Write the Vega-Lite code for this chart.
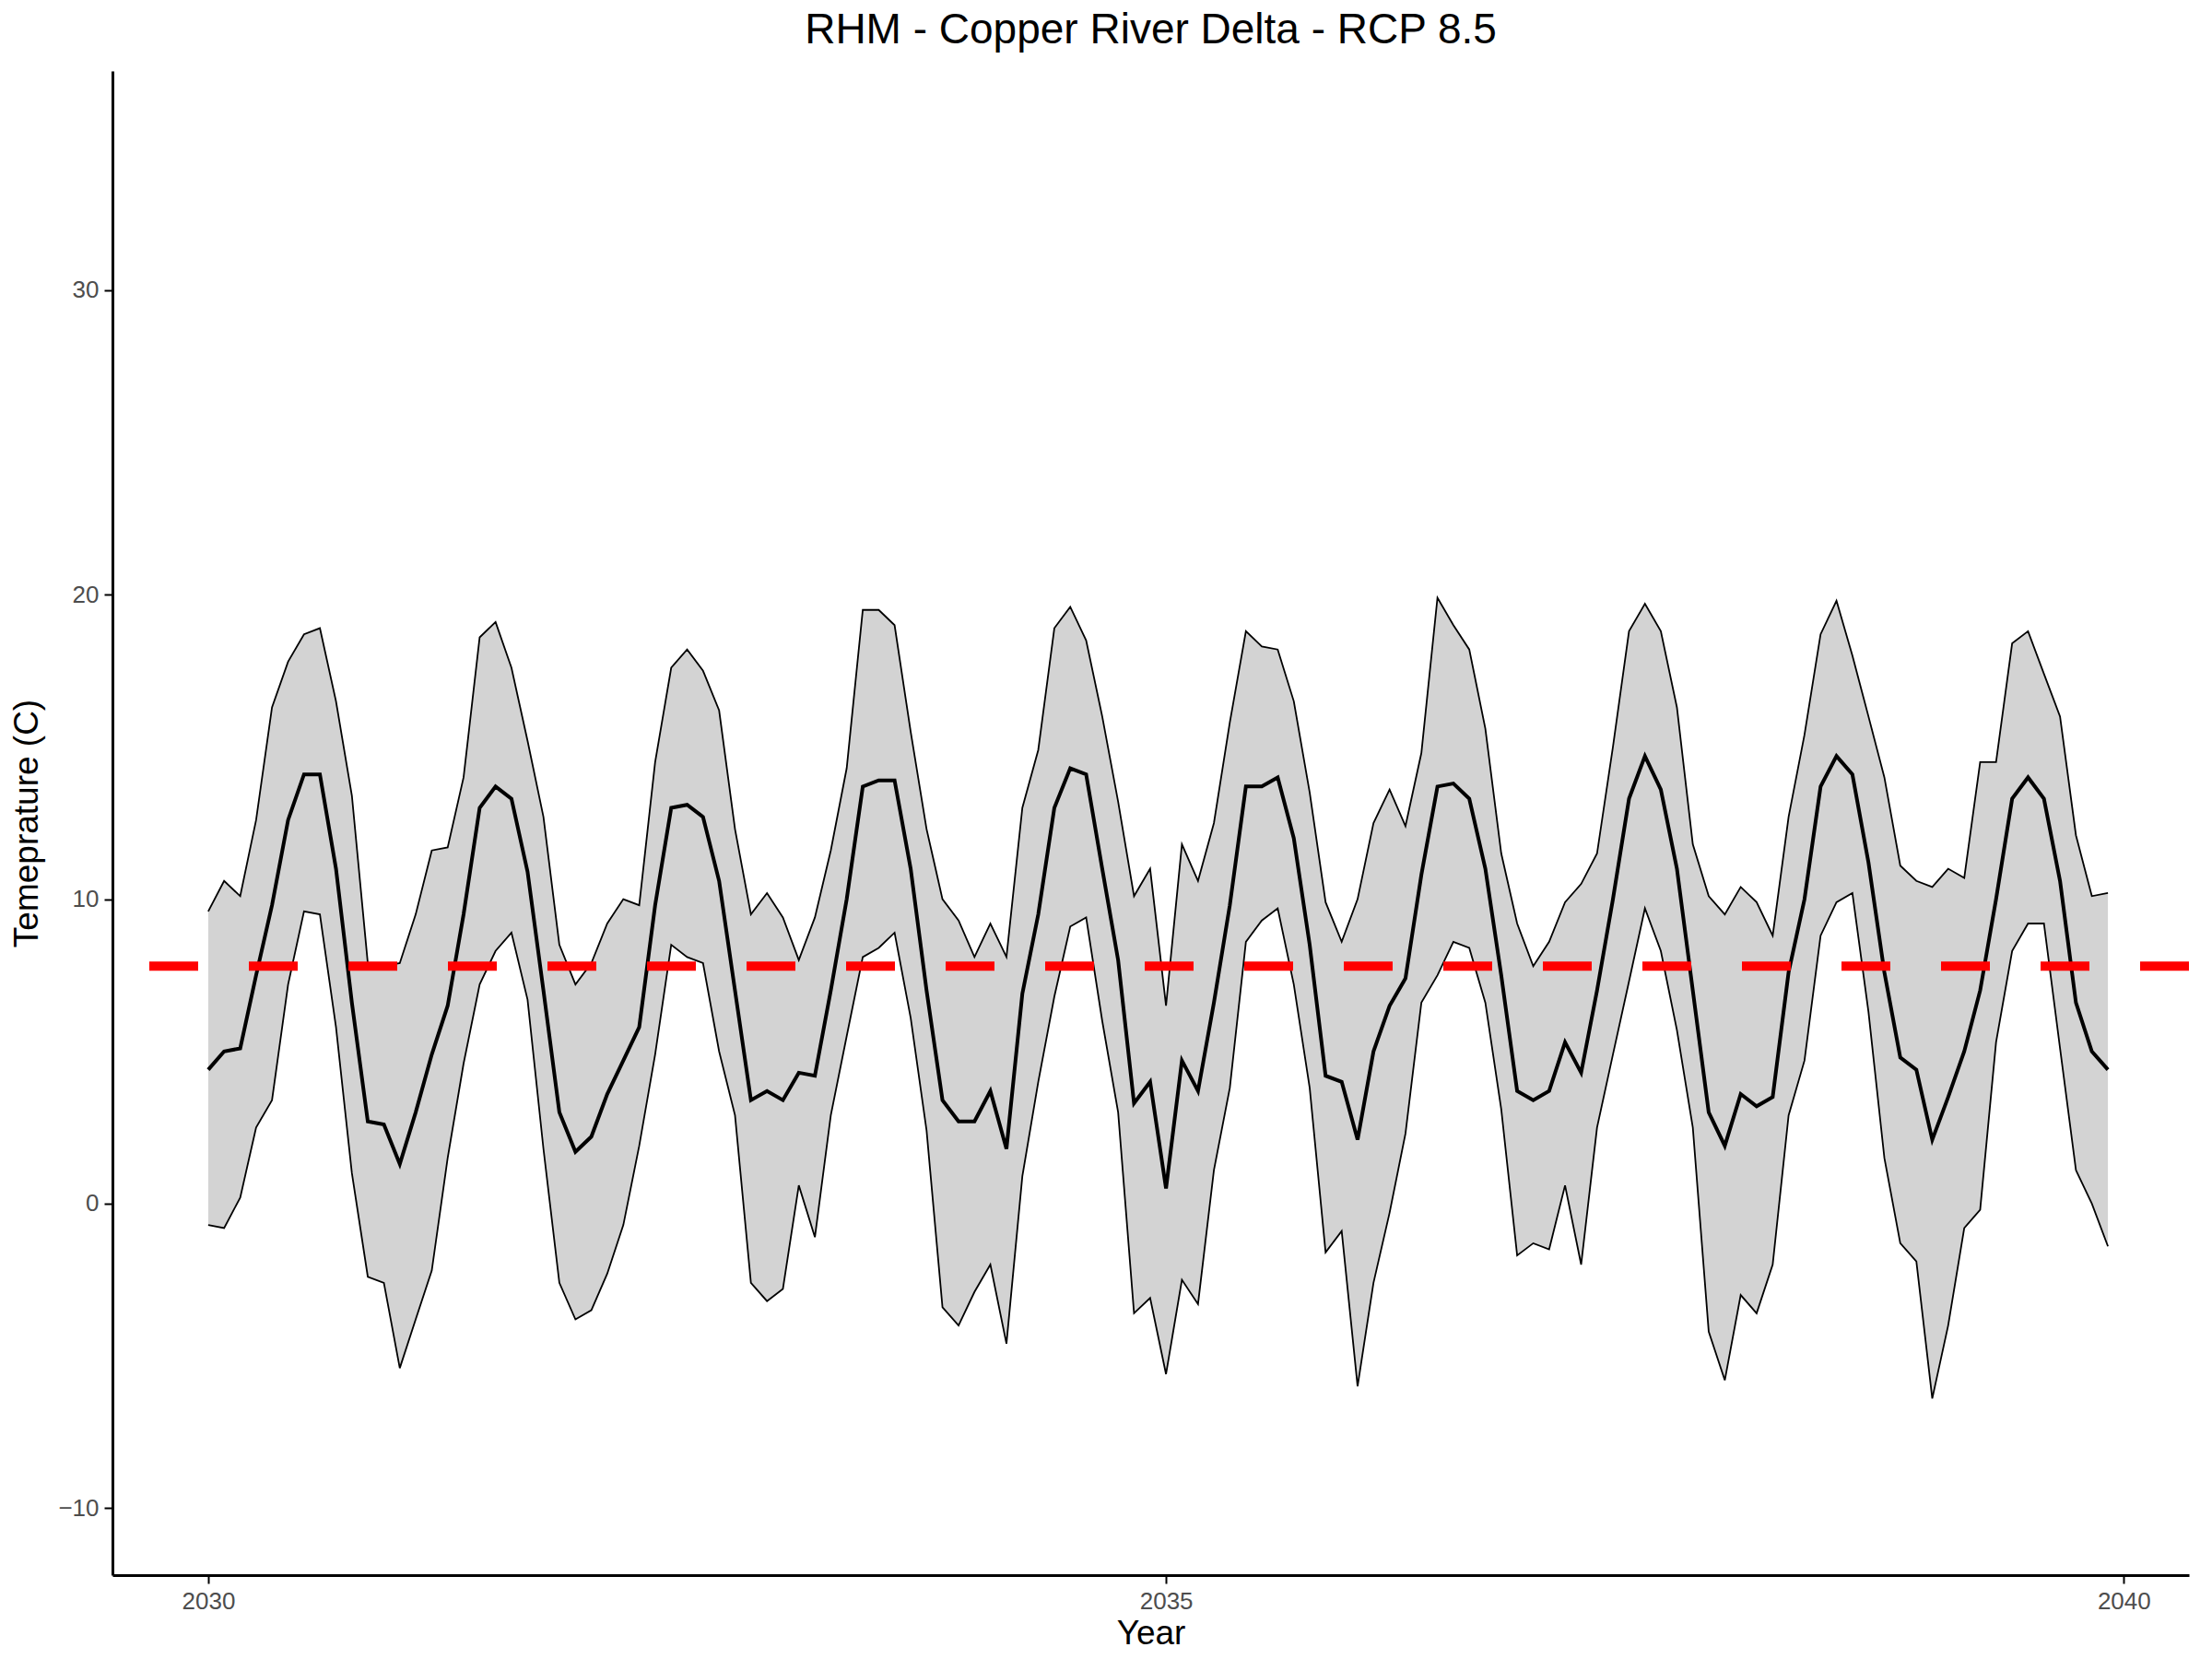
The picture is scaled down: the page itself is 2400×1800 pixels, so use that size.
{
"$schema":"https://vega.github.io/schema/vega-lite/v6.json",
"width":2400,"height":1800,
"autosize":{"type":"fit","contains":"padding"},
"padding":{"left":10,"top":10,"right":20,"bottom":10},
"background":"white",
"title":{"text":"RHM - Copper River Delta - RCP 8.5","fontSize":46,"font":"Liberation Sans","fontWeight":"normal","color":"black","offset":20},
"config":{"view":{"stroke":null},"axis":{"grid":false,"domainColor":"black","domainWidth":3,"tickColor":"black","tickWidth":2,"tickSize":9,"labelFont":"Liberation Sans","labelFontSize":26,"labelColor":"#4D4D4D","titleFont":"Liberation Sans","titleFontSize":37,"titleFontWeight":"normal","titleColor":"black","labelPadding":6}},
"datasets":{"temps":[
{"t":2030.000,"mean":4.4,"upper":9.6,"lower":-0.7},{"t":2030.083,"mean":5.0,"upper":10.6,"lower":-0.8},{"t":2030.167,"mean":5.1,"upper":10.1,"lower":0.2},{"t":2030.250,"mean":7.5,"upper":12.6,"lower":2.5},{"t":2030.333,"mean":9.8,"upper":16.3,"lower":3.4},{"t":2030.417,"mean":12.6,"upper":17.8,"lower":7.2},{"t":2030.500,"mean":14.1,"upper":18.7,"lower":9.6},{"t":2030.583,"mean":14.1,"upper":18.9,"lower":9.5},{"t":2030.667,"mean":11.0,"upper":16.5,"lower":5.8},{"t":2030.750,"mean":6.6,"upper":13.4,"lower":1.0},{"t":2030.833,"mean":2.7,"upper":7.9,"lower":-2.4},{"t":2030.917,"mean":2.6,"upper":7.8,"lower":-2.6},
{"t":2031.000,"mean":1.3,"upper":7.9,"lower":-5.4},{"t":2031.083,"mean":3.0,"upper":9.5,"lower":-3.8},{"t":2031.167,"mean":4.9,"upper":11.6,"lower":-2.2},{"t":2031.250,"mean":6.5,"upper":11.7,"lower":1.5},{"t":2031.333,"mean":9.5,"upper":14.0,"lower":4.6},{"t":2031.417,"mean":13.0,"upper":18.6,"lower":7.2},{"t":2031.500,"mean":13.7,"upper":19.1,"lower":8.3},{"t":2031.583,"mean":13.3,"upper":17.6,"lower":8.9},{"t":2031.667,"mean":10.9,"upper":15.2,"lower":6.7},{"t":2031.750,"mean":7.0,"upper":12.7,"lower":1.8},{"t":2031.833,"mean":3.0,"upper":8.5,"lower":-2.6},{"t":2031.917,"mean":1.7,"upper":7.2,"lower":-3.8},
{"t":2032.000,"mean":2.2,"upper":7.9,"lower":-3.5},{"t":2032.083,"mean":3.6,"upper":9.2,"lower":-2.3},{"t":2032.167,"mean":4.7,"upper":10.0,"lower":-0.7},{"t":2032.250,"mean":5.8,"upper":9.8,"lower":1.9},{"t":2032.333,"mean":9.8,"upper":14.5,"lower":4.9},{"t":2032.417,"mean":13.0,"upper":17.6,"lower":8.5},{"t":2032.500,"mean":13.1,"upper":18.2,"lower":8.1},{"t":2032.583,"mean":12.7,"upper":17.5,"lower":7.9},{"t":2032.667,"mean":10.6,"upper":16.2,"lower":5.0},{"t":2032.750,"mean":7.0,"upper":12.3,"lower":2.9},{"t":2032.833,"mean":3.4,"upper":9.5,"lower":-2.6},{"t":2032.917,"mean":3.7,"upper":10.2,"lower":-3.2},
{"t":2033.000,"mean":3.4,"upper":9.4,"lower":-2.8},{"t":2033.083,"mean":4.3,"upper":8.0,"lower":0.6},{"t":2033.167,"mean":4.2,"upper":9.4,"lower":-1.1},{"t":2033.250,"mean":7.0,"upper":11.6,"lower":2.9},{"t":2033.333,"mean":10.0,"upper":14.3,"lower":5.5},{"t":2033.417,"mean":13.7,"upper":19.5,"lower":8.1},{"t":2033.500,"mean":13.9,"upper":19.5,"lower":8.4},{"t":2033.583,"mean":13.9,"upper":19.0,"lower":8.9},{"t":2033.667,"mean":11.0,"upper":15.5,"lower":6.1},{"t":2033.750,"mean":7.0,"upper":12.3,"lower":2.4},{"t":2033.833,"mean":3.4,"upper":10.0,"lower":-3.4},{"t":2033.917,"mean":2.7,"upper":9.3,"lower":-4.0},
{"t":2034.000,"mean":2.7,"upper":8.1,"lower":-2.9},{"t":2034.083,"mean":3.7,"upper":9.2,"lower":-2.0},{"t":2034.167,"mean":1.8,"upper":8.1,"lower":-4.6},{"t":2034.250,"mean":6.9,"upper":13.0,"lower":0.9},{"t":2034.333,"mean":9.5,"upper":14.9,"lower":4.0},{"t":2034.417,"mean":13.0,"upper":18.9,"lower":6.8},{"t":2034.500,"mean":14.3,"upper":19.6,"lower":9.1},{"t":2034.583,"mean":14.1,"upper":18.5,"lower":9.4},{"t":2034.667,"mean":11.0,"upper":16.0,"lower":6.0},{"t":2034.750,"mean":8.0,"upper":13.2,"lower":3.0},{"t":2034.833,"mean":3.3,"upper":10.1,"lower":-3.6},{"t":2034.917,"mean":4.0,"upper":11.0,"lower":-3.1},
{"t":2035.000,"mean":0.5,"upper":6.5,"lower":-5.6},{"t":2035.083,"mean":4.7,"upper":11.8,"lower":-2.5},{"t":2035.167,"mean":3.7,"upper":10.6,"lower":-3.3},{"t":2035.250,"mean":6.6,"upper":12.5,"lower":1.1},{"t":2035.333,"mean":9.8,"upper":15.8,"lower":3.8},{"t":2035.417,"mean":13.7,"upper":18.8,"lower":8.6},{"t":2035.500,"mean":13.7,"upper":18.3,"lower":9.3},{"t":2035.583,"mean":14.0,"upper":18.2,"lower":9.7},{"t":2035.667,"mean":12.0,"upper":16.5,"lower":7.2},{"t":2035.750,"mean":8.5,"upper":13.5,"lower":3.8},{"t":2035.833,"mean":4.2,"upper":9.9,"lower":-1.6},{"t":2035.917,"mean":4.0,"upper":8.6,"lower":-0.9},
{"t":2036.000,"mean":2.1,"upper":10.0,"lower":-6.0},{"t":2036.083,"mean":5.0,"upper":12.5,"lower":-2.6},{"t":2036.167,"mean":6.5,"upper":13.6,"lower":-0.3},{"t":2036.250,"mean":7.4,"upper":12.4,"lower":2.3},{"t":2036.333,"mean":10.8,"upper":14.8,"lower":6.6},{"t":2036.417,"mean":13.7,"upper":19.9,"lower":7.5},{"t":2036.500,"mean":13.8,"upper":19.0,"lower":8.6},{"t":2036.583,"mean":13.3,"upper":18.2,"lower":8.4},{"t":2036.667,"mean":11.0,"upper":15.6,"lower":6.6},{"t":2036.750,"mean":7.5,"upper":11.5,"lower":3.1},{"t":2036.833,"mean":3.7,"upper":9.2,"lower":-1.7},{"t":2036.917,"mean":3.4,"upper":7.8,"lower":-1.3},
{"t":2037.000,"mean":3.7,"upper":8.6,"lower":-1.5},{"t":2037.083,"mean":5.3,"upper":9.9,"lower":0.6},{"t":2037.167,"mean":4.3,"upper":10.5,"lower":-2.0},{"t":2037.250,"mean":7.0,"upper":11.5,"lower":2.5},{"t":2037.333,"mean":10.0,"upper":15.0,"lower":4.9},{"t":2037.417,"mean":13.3,"upper":18.8,"lower":7.3},{"t":2037.500,"mean":14.7,"upper":19.7,"lower":9.7},{"t":2037.583,"mean":13.6,"upper":18.8,"lower":8.3},{"t":2037.667,"mean":11.0,"upper":16.3,"lower":5.7},{"t":2037.750,"mean":7.0,"upper":11.8,"lower":2.5},{"t":2037.833,"mean":3.0,"upper":10.1,"lower":-4.2},{"t":2037.917,"mean":1.9,"upper":9.5,"lower":-5.8},
{"t":2038.000,"mean":3.6,"upper":10.4,"lower":-3.0},{"t":2038.083,"mean":3.2,"upper":9.9,"lower":-3.6},{"t":2038.167,"mean":3.5,"upper":8.8,"lower":-2.0},{"t":2038.250,"mean":7.6,"upper":12.7,"lower":2.9},{"t":2038.333,"mean":10.0,"upper":15.4,"lower":4.7},{"t":2038.417,"mean":13.7,"upper":18.7,"lower":8.8},{"t":2038.500,"mean":14.7,"upper":19.8,"lower":9.9},{"t":2038.583,"mean":14.1,"upper":18.0,"lower":10.2},{"t":2038.667,"mean":11.2,"upper":16.0,"lower":6.3},{"t":2038.750,"mean":7.6,"upper":14.0,"lower":1.5},{"t":2038.833,"mean":4.8,"upper":11.1,"lower":-1.3},{"t":2038.917,"mean":4.4,"upper":10.6,"lower":-1.9},
{"t":2039.000,"mean":2.1,"upper":10.4,"lower":-6.4},{"t":2039.083,"mean":3.5,"upper":11.0,"lower":-4.0},{"t":2039.167,"mean":5.0,"upper":10.7,"lower":-0.8},{"t":2039.250,"mean":7.0,"upper":14.5,"lower":-0.2},{"t":2039.333,"mean":10.0,"upper":14.5,"lower":5.3},{"t":2039.417,"mean":13.3,"upper":18.4,"lower":8.3},{"t":2039.500,"mean":14.0,"upper":18.8,"lower":9.2},{"t":2039.583,"mean":13.3,"upper":17.4,"lower":9.2},{"t":2039.667,"mean":10.6,"upper":16.0,"lower":5.1},{"t":2039.750,"mean":6.6,"upper":12.1,"lower":1.1},{"t":2039.833,"mean":5.0,"upper":10.1,"lower":0.0},{"t":2039.917,"mean":4.4,"upper":10.2,"lower":-1.4}
],"ref":[{"y":7.8}]},
"layer":[
{"data":{"name":"temps"},"mark":{"type":"area","color":"#D3D3D3"},
 "encoding":{"x":{"field":"t","type":"quantitative","scale":{"domain":[2029.5,2040.34],"nice":false,"zero":false},"axis":{"values":[2030,2035,2040],"format":"d","title":"Year"}},
 "y":{"field":"upper","type":"quantitative","scale":{"domain":[-12.2,37.2],"nice":false,"zero":false},"axis":{"values":[-10,0,10,20,30],"title":"Temeprature (C)","titlePadding":14}},
 "y2":{"field":"lower"}}},
{"data":{"name":"temps"},"mark":{"type":"line","color":"black","strokeWidth":1.8},"encoding":{"x":{"field":"t","type":"quantitative"},"y":{"field":"upper","type":"quantitative"}}},
{"data":{"name":"temps"},"mark":{"type":"line","color":"black","strokeWidth":1.8},"encoding":{"x":{"field":"t","type":"quantitative"},"y":{"field":"lower","type":"quantitative"}}},
{"data":{"name":"temps"},"mark":{"type":"line","color":"black","strokeWidth":4},"encoding":{"x":{"field":"t","type":"quantitative"},"y":{"field":"mean","type":"quantitative"}}},
{"data":{"name":"ref"},"mark":{"type":"rule","color":"red","strokeWidth":10,"strokeDash":[53,55]},"encoding":{"y":{"field":"y","type":"quantitative"}}}
]
}
